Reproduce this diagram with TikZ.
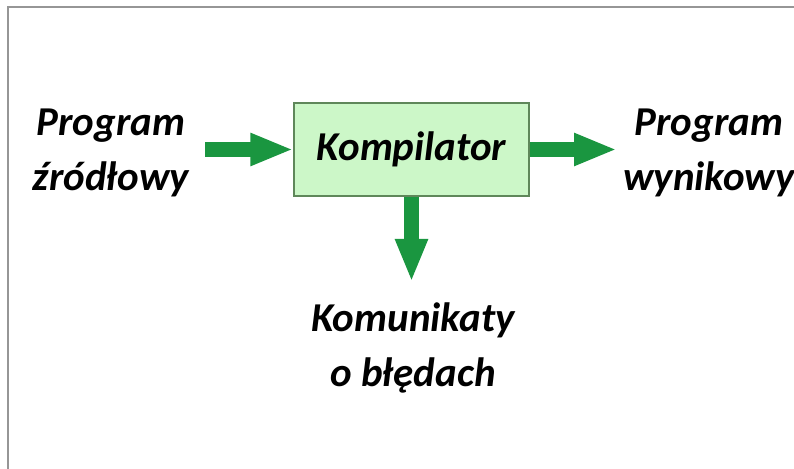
\documentclass[tikz,border=0pt]{standalone}
\usepackage{fontspec}
\setmainfont{Carlito}
\usetikzlibrary{arrows.meta}
\definecolor{flowgreen}{RGB}{26,150,64}
\definecolor{boxfill}{RGB}{204,247,200}
\definecolor{boxline}{RGB}{95,135,90}
\definecolor{framegray}{RGB}{150,150,150}
\begin{document}
\begin{tikzpicture}[x=1bp, y=-1bp,
        flow/.style={line width=15bp, flowgreen, -{Triangle[length=43bp,width=30bp]}},
        label/.style={inner sep=0pt, align=center, font=\fontsize{41bp}{55bp}\selectfont\bfseries\itshape},
        compbox/.style={draw=boxline, line width=1.2bp, fill=boxfill, minimum width=235bp, minimum height=93bp, inner sep=0pt,
            font=\fontsize{41bp}{55bp}\selectfont\bfseries\itshape}]

            \useasboundingbox (0,0) rectangle (794,469);

            % ramka
            \draw[framegray, line width=2bp] (8,469) -- (8,7) -- (794,7);

            \node[compbox] (comp) at (411.5,149.5) {Kompilator};

            \node[label] (src) at (111,153) {Program\\źródłowy};
            \node[label] (dst) at (709,153) {Program\\wynikowy};
            \node[label] (msg) at (413,348) {Komunikaty\\o błędach};

            \coordinate (srcEnd) at (205,149.5);
            \coordinate (dstEnd) at (617,149.5);
            \coordinate (msgEnd) at (411.5,282);

            \draw[flow] (srcEnd) -- (comp.west);
            \draw[flow] (comp.east) -- (dstEnd);
            \draw[flow] (comp.south) -- (msgEnd);

        \end{tikzpicture}
\end{document}
